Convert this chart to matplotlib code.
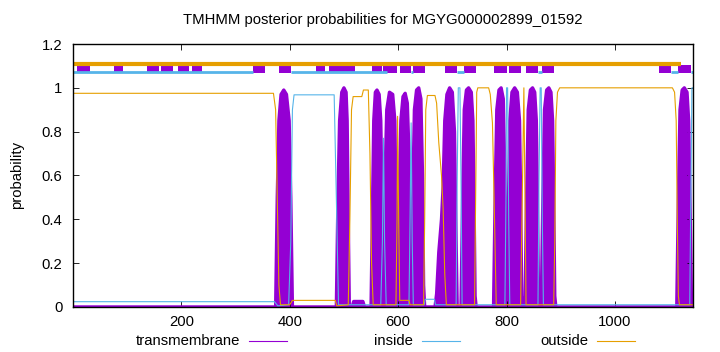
import matplotlib
matplotlib.use('Agg')
import matplotlib.pyplot as plt
from matplotlib.lines import Line2D

plt.rcParams['font.family'] = ['Liberation Sans', 'DejaVu Sans']
plt.rcParams['font.size'] = 10.7

PURPLE = '#9400D3'
BLUE = '#56B4E9'
ORANGE = '#E69F00'

title = 'TMHMM posterior probabilities for MGYG000002899_01592'
seq_len = 1144

# transmembrane posterior (residue, probability)
tm_x = [1, 374, 377, 380, 384, 389, 394, 399, 402, 405,
        486, 489, 492, 496, 500, 504, 506, 508, 510,
        515, 518, 535, 538,
        550, 553, 555, 558, 561, 565, 568, 571, 573,
        576, 579, 584, 590, 594, 596, 599,
        602, 605, 609, 613, 617, 620, 622, 624,
        627, 630, 634, 638, 642, 645, 647, 649,
        668, 671, 675, 680, 683, 686, 690, 695, 700, 704, 707, 709,
        716, 719, 722, 726, 730, 735, 738, 740, 742, 744,
        776, 779, 782, 786, 790, 794, 797, 799, 801,
        803, 806, 810, 815, 820, 824, 826, 828, 830,
        834, 837, 840, 844, 848, 852, 855, 857, 859, 861,
        864, 867, 870, 874, 878, 882, 885, 887, 889, 891,
        1114, 1117, 1120, 1124, 1128, 1133, 1136, 1139, 1141, 1144]
tm_y = [0, 0, 0.5, 0.85, 0.97, 0.99, 0.97, 0.85, 0.5, 0,
        0, 0.5, 0.85, 0.98, 1.0, 0.98, 0.85, 0.4, 0,
        0, 0.025, 0.025, 0,
        0, 0.5, 0.85, 0.98, 0.99, 0.97, 0.85, 0.4, 0.2,
        0.6, 0.9, 0.98, 0.97, 0.85, 0.5, 0.1,
        0.5, 0.85, 0.96, 0.975, 0.93, 0.7, 0.2, 0.12,
        0.5, 0.9, 0.99, 1.0, 0.95, 0.6, 0.1, 0,
        0, 0.06, 0.25, 0.4, 0.55, 0.85, 0.97, 1.0, 0.98, 0.8, 0.3, 0,
        0, 0.5, 0.9, 0.99, 1.0, 0.98, 0.85, 0.5, 0.05, 0,
        0, 0.5, 0.9, 0.99, 1.0, 0.95, 0.6, 0.2, 0.05,
        0.4, 0.85, 0.98, 1.0, 0.98, 0.85, 0.5, 0.05, 0,
        0, 0.5, 0.9, 0.99, 1.0, 0.98, 0.85, 0.5, 0.05, 0,
        0, 0.5, 0.9, 0.99, 1.0, 0.98, 0.85, 0.5, 0.05, 0,
        0, 0.5, 0.9, 0.99, 1.0, 0.98, 0.85, 0.4, 0.05, 0]

# inside posterior
inside_x = [1, 372, 378, 398, 402, 405, 408, 482, 486, 490,
            568, 571, 573, 575, 578,
            620, 622, 624, 626, 628,
            648, 650, 667, 669,
            707, 709, 711, 714, 716, 718,
            797, 799, 800, 802, 804, 806,
            858, 860, 862, 864, 866, 868,
            1138, 1140, 1142, 1144]
inside_y = [0.024, 0.024, 0.005, 0.01, 0.3, 0.9, 0.968, 0.968, 0.5, 0.01,
            0.01, 0.3, 0.77, 0.3, 0.01,
            0.01, 0.4, 0.84, 0.3, 0.01,
            0.01, 0.035, 0.035, 0.01,
            0.01, 0.6, 1.0, 1.0, 0.6, 0.01,
            0.01, 0.5, 1.0, 1.0, 0.4, 0.01,
            0.01, 0.6, 1.0, 1.0, 0.4, 0.01,
            0.01, 0.5, 1.0, 1.0]

# outside posterior
outside_x = [1, 370, 374, 377, 380, 383, 400, 405, 484, 487,
             508, 511, 514, 517, 533, 536, 545, 548, 551, 554,
             596, 598, 599, 601, 603, 620, 622,
             647, 649, 651, 654, 668, 671, 675, 680, 683, 686, 689,
             741, 743, 745, 747, 767, 770, 774, 777, 781,
             826, 829, 832, 834, 836,
             887, 889, 891, 894, 898, 1106, 1110, 1113, 1115, 1117, 1119, 1144]
outside_y = [0.975, 0.975, 0.9, 0.5, 0.1, 0.01, 0.01, 0.03, 0.03, 0.005,
             0.01, 0.4, 0.9, 0.96, 0.96, 0.99, 0.99, 0.7, 0.2, 0.01,
             0.01, 0.4, 0.87, 0.4, 0.03, 0.03, 0.01,
             0.01, 0.4, 0.9, 0.965, 0.965, 0.93, 0.75, 0.6, 0.45, 0.15, 0.01,
             0.01, 0.5, 0.98, 1.0, 1.0, 0.97, 0.84, 0.5, 0.01,
             0.01, 0.5, 1.0, 0.5, 0.01,
             0.01, 0.3, 0.85, 0.98, 1.0, 1.0, 0.98, 0.85, 0.4, 0.05, 0.01, 0.01]

# predicted topology strip at the top
top_tm = [(8, 32), (76, 93), (137, 159), (163, 185), (193, 215), (220, 239),
          (333, 355), (381, 403), (448, 466), (472, 492), (492, 521),
          (551, 571), (573, 597), (603, 623), (627, 649), (686, 708),
          (721, 743), (776, 800), (804, 826), (835, 858), (865, 887),
          (1081, 1103), (1116, 1140)]
top_inside = [(1, 333), (403, 579), (623, 627), (708, 721), (858, 865),
              (1103, 1116), (1140, 1144)]
top_outside = [(1, 1122)]

fig = plt.figure(figsize=(7.2, 3.52), dpi=100)
ax = fig.add_axes([0.102, 0.128, 0.8605, 0.747])

ax.fill_between(tm_x, tm_y, 0, color=PURPLE, lw=0)
ax.plot(tm_x, tm_y, color=PURPLE, lw=2.4)
ax.plot(inside_x, inside_y, color=BLUE, lw=0.8)
ax.plot(outside_x, outside_y, color=ORANGE, lw=0.8)

for a, b in top_outside:
    ax.plot([a, b], [1.11, 1.11], color=ORANGE, lw=3, solid_capstyle='butt')
for a, b in top_inside:
    ax.plot([a, b], [1.07, 1.07], color=BLUE, lw=2, solid_capstyle='butt')
for a, b in top_tm:
    ax.fill_between([a, b], 1.068, 1.104, color=PURPLE, lw=0)

ax.set_xlim(1, seq_len)
ax.set_ylim(0, 1.2)
ax.set_xticks([200, 400, 600, 800, 1000])
ax.set_yticks([0, 0.2, 0.4, 0.6, 0.8, 1.0, 1.2])
ax.set_yticklabels(['0', '0.2', '0.4', '0.6', '0.8', '1', '1.2'])
ax.tick_params(direction='in', length=4, width=0.6, top=True, right=True,
               pad=6, colors='black')
ax.tick_params(axis='y', pad=8)
for s in ax.spines.values():
    s.set_linewidth(1.0)

fig.text(383 / 720, 1 - 20 / 352, title, ha='center', va='center')
fig.text(17 / 720, 1 - 175 / 352, 'probability', rotation=90,
         ha='center', va='center')

# key along the bottom
key = [('transmembrane', PURPLE, 240), ('inside', BLUE, 413), ('outside', ORANGE, 588)]
ky = 1 - 341 / 352
for label, col, xr in key:
    fig.text(xr / 720, ky, label, ha='right', va='center')
    fig.add_artist(Line2D([(xr + 9) / 720, (xr + 47) / 720], [ky, ky],
                          color=col, lw=0.8, transform=fig.transFigure))

fig.savefig('out.png', dpi=100)
